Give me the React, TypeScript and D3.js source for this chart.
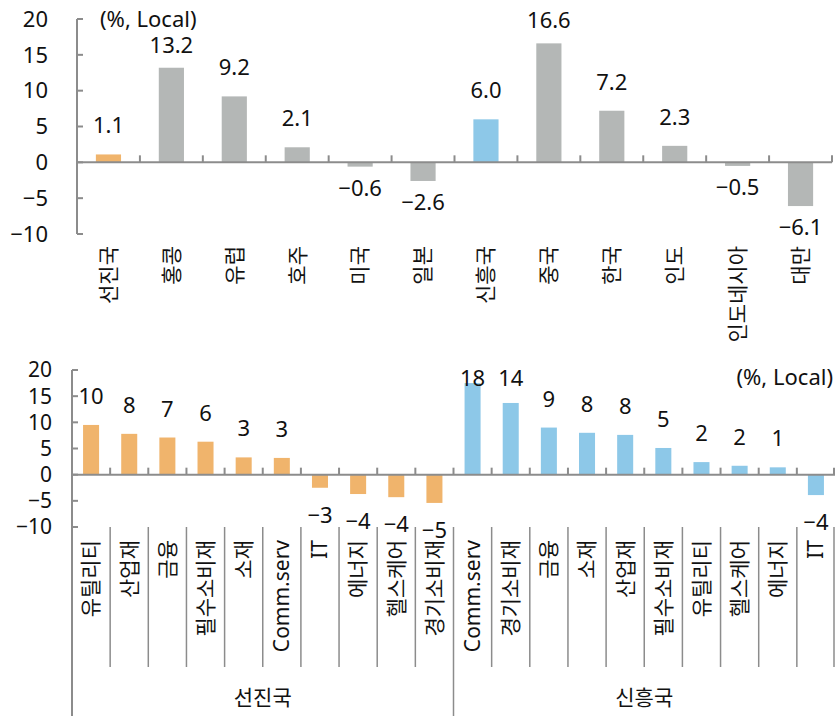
import React from 'react';
import * as d3 from 'd3';

// Top panel: country returns
const countries = ['선진국', '홍콩', '유럽', '호주', '미국', '일본', '신흥국', '중국', '한국', '인도', '인도네시아', '대만'];
const countryValues = [1.1, 13.2, 9.2, 2.1, -0.6, -2.6, 6.0, 16.6, 7.2, 2.3, -0.5, -6.1];
const countryKind = ['dm', 'etc', 'etc', 'etc', 'etc', 'etc', 'em', 'etc', 'etc', 'etc', 'etc', 'etc'];

// Bottom panel: sector returns by group
const groups = ['선진국', '신흥국'];
const dmSectors = ['유틸리티', '산업재', '금융', '필수소비재', '소재', 'Comm.serv', 'IT', '에너지', '헬스케어', '경기소비재'];
const dmValues = [9.5, 7.8, 7.1, 6.3, 3.3, 3.2, -2.5, -3.7, -4.3, -5.4];
const emSectors = ['Comm.serv', '경기소비재', '금융', '소재', '산업재', '필수소비재', '유틸리티', '헬스케어', '에너지', 'IT'];
const emValues = [17.5, 13.7, 9.0, 8.0, 7.6, 5.1, 2.4, 1.7, 1.4, -3.9];

const yTicks = [-10, -5, 0, 5, 10, 15, 20];

const COLORS: Record<string, string> = { dm: '#F0B46C', em: '#8DC8E8', etc: '#B4B7B6' };
const AXIS = '#8C8C8C';
const FONT = '"Noto Sans", "Noto Sans CJK KR", sans-serif';

const fmt1 = d3.format('.1f');
const fmt0 = d3.format('.0f');

const W = 835;
const H = 716;

function TopPanel() {
  const x = d3.scaleBand<number>().domain(d3.range(countries.length)).range([77, 832]);
  const y = d3.scaleLinear().domain([-10, 20]).range([234, 19]);
  const bw = x.bandwidth() * 0.4;
  const y0 = y(0);
  return (
    <g>
      {countryValues.map((v, i) => {
        const cx = x(i)! + x.bandwidth() / 2;
        return (
          <rect key={i} x={cx - bw / 2} width={bw} y={Math.min(y(v), y0)} height={Math.abs(y(v) - y0)}
            fill={COLORS[countryKind[i]]} />
        );
      })}
      <line x1={77} x2={77} y1={y(20)} y2={y(-10)} stroke={AXIS} strokeWidth={2} />
      {yTicks.map((t) => (
        <g key={t}>
          <line x1={77} x2={83} y1={y(t)} y2={y(t)} stroke={AXIS} strokeWidth={2} />
          <text x={48} y={y(t)} dy="0.35em" textAnchor="end" fontSize={22} fill="#111">{fmt0(t)}</text>
        </g>
      ))}
      <line x1={77} x2={832} y1={y0} y2={y0} stroke={AXIS} strokeWidth={2} />
      {d3.range(countries.length + 1).map((i) => {
        const bx = i < countries.length ? x(i)! : 832;
        return <line key={i} x1={bx} x2={bx} y1={y0} y2={y0 - 7} stroke={AXIS} strokeWidth={2} />;
      })}
      {countryValues.map((v, i) => {
        const cx = x(i)! + x.bandwidth() / 2;
        // tall bars keep their label closer to the bar so it stays clear of the unit note
        const ly = v >= 0 ? y(v) - (v > 12 ? 15 : 21) : y(v) + 29;
        return (
          <text key={i} x={cx} y={ly} textAnchor="middle" fontSize={22} fill="#111">{fmt1(v)}</text>
        );
      })}
      {countries.map((c, i) => {
        const cx = x(i)! + x.bandwidth() / 2;
        return (
          <text key={c} transform={`translate(${cx},${y(-10) + 12}) rotate(-90)`} dy="0.35em" textAnchor="end"
            fontSize={21} fill="#111">{c}</text>
        );
      })}
      <text x={100} y={27} fontSize={22} fill="#111">(%, Local)</text>
    </g>
  );
}

function BottomPanel() {
  const sectors = [...dmSectors, ...emSectors];
  const values = [...dmValues, ...emValues];
  const x = d3.scaleBand<number>().domain(d3.range(sectors.length)).range([72, 835]);
  const y = d3.scaleLinear().domain([-10, 20]).range([527, 370]);
  const bw = x.bandwidth() * 0.42;
  const y0 = y(0);
  const yBot = y(-10);
  return (
    <g>
      {values.map((v, i) => {
        const cx = x(i)! + x.bandwidth() / 2;
        return (
          <rect key={i} x={cx - bw / 2} width={bw} y={Math.min(y(v), y0)} height={Math.abs(y(v) - y0)}
            fill={i < dmSectors.length ? COLORS.dm : COLORS.em} />
        );
      })}
      <line x1={72} x2={72} y1={y(20)} y2={H} stroke={AXIS} strokeWidth={2} />
      {yTicks.map((t) => (
        <g key={t}>
          <line x1={72} x2={78} y1={y(t)} y2={y(t)} stroke={AXIS} strokeWidth={2} />
          <text x={52} y={y(t)} dy="0.35em" textAnchor="end" fontSize={21} fill="#111">{fmt0(t)}</text>
        </g>
      ))}
      <line x1={72} x2={835} y1={y0} y2={y0} stroke={AXIS} strokeWidth={2} />
      {d3.range(1, sectors.length + 1).map((i) => {
        const bx = i < sectors.length ? x(i)! : 834;
        const isGroup = i === dmSectors.length;
        return (
          <g key={i}>
            <line x1={bx} x2={bx} y1={y0} y2={y0 - 7} stroke={AXIS} strokeWidth={2} />
            <line x1={bx} x2={bx} y1={yBot} y2={isGroup ? H : 667} stroke={AXIS} strokeWidth={1.5} />
          </g>
        );
      })}
      {values.map((v, i) => {
        const cx = x(i)! + x.bandwidth() / 2;
        const ly = v >= 0 ? Math.max(y(v) - 21, 386) : y(v) + 35;
        return (
          <text key={i} x={cx} y={ly} textAnchor="middle" fontSize={22} fill="#111">{fmt0(v)}</text>
        );
      })}
      {sectors.map((c, i) => {
        const cx = x(i)! + x.bandwidth() / 2;
        return (
          <text key={i} transform={`translate(${cx},${yBot + 13}) rotate(-90)`} dy="0.35em" textAnchor="end"
            fontSize={21} fill="#111">{c}</text>
        );
      })}
      {groups.map((g, gi) => {
        const a = x(gi * dmSectors.length)!;
        const b = gi === 0 ? x(dmSectors.length)! : 835;
        return (
          <text key={g} x={(a + b) / 2} y={705} textAnchor="middle" fontSize={21} fill="#111">{g}</text>
        );
      })}
      <text x={833} y={385} textAnchor="end" fontSize={22} fill="#111">(%, Local)</text>
    </g>
  );
}

export default function App() {
  return (
    <svg width={W} height={H} style={{ position: 'absolute', left: 0, top: 0, background: '#fff' }}
      fontFamily={FONT}>
      <TopPanel />
      <BottomPanel />
    </svg>
  );
}
